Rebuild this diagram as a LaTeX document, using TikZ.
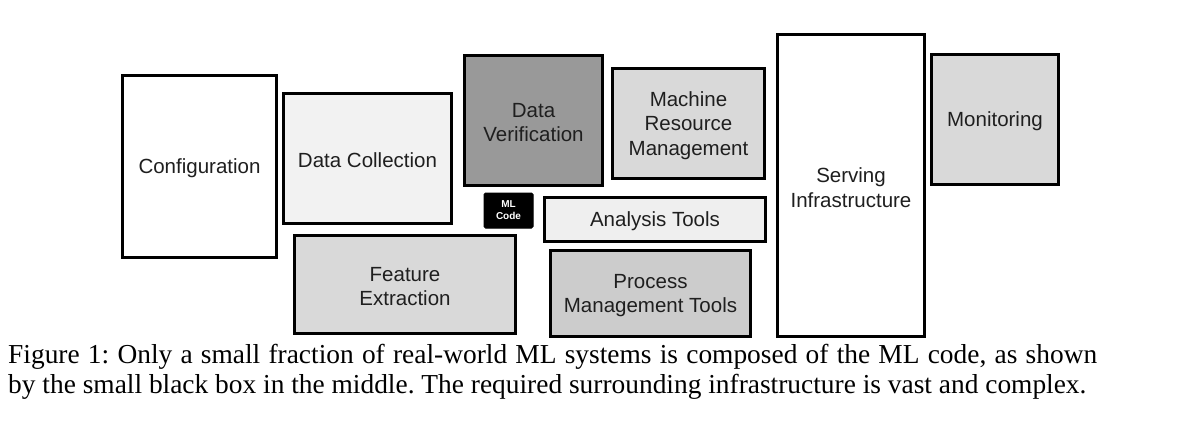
\documentclass[tikz,border=0pt]{standalone}
\usepackage{fontspec}
\setmainfont{Liberation Serif}
\newfontfamily\boxfont{Liberation Sans}
\definecolor{gA}{HTML}{F2F2F2}
\definecolor{gB}{HTML}{999999}
\definecolor{gC}{HTML}{D9D9D9}
\definecolor{gD}{HTML}{CCCCCC}
\definecolor{gE}{HTML}{EFEFEF}
\tikzset{
  box/.style={draw=black, line width=3pt, inner sep=0pt, outer sep=0pt},
  boxtext/.style={inner sep=0pt, align=center, yshift=-2pt,
    font=\boxfont\fontsize{20.5}{24.5}\selectfont, text=black!88},
  mlbox/.style={draw=black, fill=black, line width=1pt, rounded corners=1.5pt, inner sep=0pt, align=center,
    font=\boxfont\bfseries\fontsize{10}{12}\selectfont, text=white},
  captext/.style={inner sep=0pt, anchor=base west, font=\fontsize{27.4}{30}\selectfont}
}
% helper: box from (x1,y1) to (x2,y2) in px (outer edges)
\newcommand{\bx}[7]{%
  \pgfmathsetmacro{\bw}{#4-#2-3}\pgfmathsetmacro{\bh}{#5-#3-3}%
  \node[box, #6, minimum width=\bw pt, minimum height=\bh pt] (#1) at ({(#2+#4)/2},{(#3+#5)/2}) {};
  \node[boxtext] (#1-t) at (#1.center) {#7};}
\begin{document}
\frenchspacing
\begin{tikzpicture}[x=1pt,y=-1pt]
\useasboundingbox (0,0) rectangle (1200,423);
\fill[white] (0,0) rectangle (1200,423);
\bx{conf}{121}{74}{278}{259}{fill=white}{Configuration}
\bx{dcol}{282}{92}{453}{225}{fill=gA}{Data Collection}
\bx{dver}{463}{54}{604}{187}{fill=gB}{Data\\Verification}
\bx{mrm}{611}{67}{766}{180}{fill=gC}{Machine\\Resource\\Management}
\bx{serv}{776}{33}{926}{338}{fill=white}{Serving\\Infrastructure}
\bx{mon}{930}{53}{1060}{186}{fill=gC}{Monitoring}
\bx{feat}{293}{234}{517}{335}{fill=gC}{Feature\\Extraction}
\bx{anal}{543}{196}{767}{243}{fill=gE}{Analysis Tools}
\bx{proc}{549}{249}{752}{338}{fill=gD}{Process\\Management Tools}
\node[mlbox, minimum width=49pt, minimum height=35pt] (ml) at (508.5,210.5) {ML\\Code};
\node[captext] (cap1) at (8,363) {\hbox to 1089pt{Figure 1: Only a small fraction of real-world ML systems is composed of the ML code, as shown}};
\node[captext] (cap2) at (8,393) {by the small black box in the middle. The required surrounding infrastructure is vast and complex.};
\end{tikzpicture}
\end{document}
